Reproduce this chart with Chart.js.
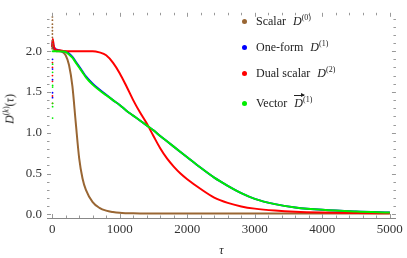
<!DOCTYPE html>
<html>
<head>
<meta charset="utf-8">
<script src="https://cdn.jsdelivr.net/npm/chart.js@4"></script>
<style>
  html, body { margin: 0; padding: 0; background: #fff; }
  #wrap { position: relative; width: 407px; height: 258px; }
  #legend { position: absolute; left: 242px; top: 12px; font-family: "Liberation Serif", "DejaVu Serif", serif; font-size: 12px; color: #222; }
  #legend .row { position: absolute; white-space: nowrap; left: 0; height: 16px; line-height: 16px; }
  #legend .dot { display: inline-block; width: 5px; height: 5px; border-radius: 50%; margin-right: 9px; vertical-align: middle; position: relative; top: -1px; }
  #legend i { font-style: italic; margin-left: 4px; }
  #legend sup { font-size: 8px; vertical-align: 5px; line-height: 0; }
  .vec { position: relative; display: inline-block; }
  .vec::before { content: ""; position: absolute; left: 0px; right: -1px; top: 0px; border-top: 1px solid #222; }
  .vec::after { content: ""; position: absolute; right: -2px; top: -2px; border-left: 4px solid #222; border-top: 2.5px solid transparent; border-bottom: 2.5px solid transparent; }
  #ytitle { position: absolute; left: 0px; top: 109px; transform: translate(-50%, -50%) rotate(-90deg); transform-origin: center; font-family: "Liberation Serif", "DejaVu Serif", serif; font-size: 12px; color: #222; white-space: nowrap; margin-left: 10px; }
  #ytitle sup { font-size: 8px; vertical-align: 5px; line-height: 0; }
</style>
</head>
<body>
<div id="wrap">
  <canvas id="c" width="407" height="258"></canvas>
  <div id="legend">
    <div class="row" style="top:1px"><span class="dot" style="background:#996633"></span>Scalar <i>D</i><sup>(0)</sup></div>
    <div class="row" style="top:27px"><span class="dot" style="background:#0000ff"></span>One-form <i>D</i><sup>(1)</sup></div>
    <div class="row" style="top:53px"><span class="dot" style="background:#ff0000"></span>Dual scalar <i>D</i><sup>(2)</sup></div>
    <div class="row" style="top:83px"><span class="dot" style="background:#00ee00"></span>Vector <i class="vec">D</i><sup>(1)</sup></div>
  </div>
  <div id="ytitle"><i>D</i><sup>(<i>k</i>)</sup>(<i>τ</i>)</div>
</div>
<script>
// ---- data ----
const seriesNames = ["Scalar D(0)", "One-form D(1)", "Dual scalar D(2)", "Vector D(1)"];
const tau = [0, 10, 20, 40, 60, 100, 150, 200, 250, 300, 350, 400, 450, 500, 600, 700, 800, 900, 1000, 1100, 1200, 1300, 1400, 1500, 1600, 1700, 1800, 1900, 2000, 2200, 2400, 2600, 2800, 3000, 3300, 3600, 4000, 4500, 5000];
const scalarD0 = [2.02, 2.06, 2.03, 2.01, 2.0, 2.0, 1.99, 1.95, 1.83, 1.57, 1.12, 0.69, 0.44, 0.30, 0.15, 0.08, 0.045, 0.028, 0.018, 0.014, 0.012, 0.011, 0.011, 0.011, 0.011, 0.011, 0.011, 0.011, 0.011, 0.011, 0.011, 0.011, 0.011, 0.011, 0.011, 0.011, 0.011, 0.011, 0.011];
const oneformD1 = [2.05, 2.13, 2.07, 2.03, 2.02, 2.01, 2.0, 1.995, 1.97, 1.93, 1.87, 1.81, 1.75, 1.69, 1.60, 1.53, 1.465, 1.40, 1.34, 1.27, 1.21, 1.15, 1.09, 1.03, 0.96, 0.895, 0.83, 0.765, 0.70, 0.57, 0.45, 0.35, 0.26, 0.19, 0.125, 0.085, 0.055, 0.035, 0.023];
const dualD2 = [2.05, 2.15, 2.08, 2.03, 2.015, 2.01, 2.005, 2.0, 2.0, 2.0, 2.0, 2.0, 2.0, 2.0, 2.0, 1.985, 1.95, 1.86, 1.73, 1.57, 1.40, 1.25, 1.115, 0.96, 0.81, 0.685, 0.585, 0.50, 0.43, 0.31, 0.205, 0.14, 0.097, 0.07, 0.046, 0.031, 0.021, 0.015, 0.012];
const vectorD1 = [1.99, 2.0, 2.0, 2.0, 2.0, 2.0, 1.995, 1.99, 1.96, 1.92, 1.86, 1.80, 1.74, 1.68, 1.59, 1.52, 1.46, 1.40, 1.34, 1.27, 1.21, 1.15, 1.09, 1.03, 0.96, 0.895, 0.83, 0.765, 0.70, 0.57, 0.45, 0.35, 0.26, 0.19, 0.125, 0.085, 0.055, 0.035, 0.023];
// scattered early-time samples near tau = 0
const scalarEarlyTau = [4, 4, 4, 4, 4, 4, 4, 4, 4, 4];
const scalarEarlyVal = [2.42, 2.38, 2.33, 2.29, 2.25, 2.21, 2.17, 2.13, 2.09, 2.06];
const oneformEarlyTau = [6, 6, 6, 6, 6];
const oneformEarlyVal = [1.78, 1.65, 1.49, 1.43, 1.90];
const dualEarlyTau = [5, 5, 5, 5, 5, 5];
const dualEarlyVal = [1.86, 1.80, 1.70, 1.63, 1.45, 1.36];
const vectorEarlyTau = [7, 7, 7, 7, 7, 7, 7];
const vectorEarlyVal = [1.84, 1.74, 1.58, 1.56, 1.36, 1.32, 1.18];
const xTicks = [0, 1000, 2000, 3000, 4000, 5000];
const yTicks = [0.0, 0.5, 1.0, 1.5, 2.0];

const colors = ["#996633", "#0000ff", "#ff0000", "#00ee00"];
const pts = (xs, ys) => xs.map((x, i) => ({ x: x, y: ys[i] }));

const serif = "'Liberation Serif', 'DejaVu Serif', serif";

const frameTicks = {
  id: 'frameTicks',
  afterDatasetsDraw(chart) {
    const { ctx, chartArea: a, scales: { x, y } } = chart;
    ctx.save();
    ctx.strokeStyle = '#999';
    ctx.lineWidth = 1;
    ctx.beginPath();
    for (let v = 0; v <= 24; v++) {
      const val = v / 10;
      const py = Math.round(y.getPixelForValue(val)) + 0.5;
      const len = (v % 5 === 0) ? 4 : 2.5;
      ctx.moveTo(a.left, py); ctx.lineTo(a.left + len, py);
      ctx.moveTo(a.right, py); ctx.lineTo(a.right - len, py);
    }
    for (let t = 0; t <= 5000; t += 200) {
      const px = Math.round(x.getPixelForValue(t)) + 0.5;
      const len = (t % 1000 === 0) ? 4 : 2.5;
      ctx.moveTo(px, a.bottom); ctx.lineTo(px, a.bottom - len);
      ctx.moveTo(px, a.top); ctx.lineTo(px, a.top + len);
    }
    ctx.stroke();
    ctx.restore();
  }
};

const lineDs = (label, data, color, order) => ({
  label, data: pts(tau, data), borderColor: color, backgroundColor: color,
  showLine: true, pointRadius: 0, borderWidth: 2, cubicInterpolationMode: 'monotone', order
});
const dotDs = (label, xs, ys, color, order) => ({
  label, data: pts(xs, ys), borderColor: color, backgroundColor: color,
  showLine: false, pointRadius: 0.9, borderWidth: 0, order
});

new Chart(document.getElementById('c'), {
  type: 'scatter',
  data: {
    datasets: [
      lineDs(seriesNames[0], scalarD0, colors[0], 6),
      lineDs(seriesNames[1], oneformD1, colors[1], 5),
      lineDs(seriesNames[2], dualD2, colors[2], 4),
      lineDs(seriesNames[3], vectorD1, colors[3], 3),
      dotDs(seriesNames[0] + ' early', scalarEarlyTau, scalarEarlyVal, colors[0], 2),
      dotDs(seriesNames[1] + ' early', oneformEarlyTau, oneformEarlyVal, colors[1], 1),
      dotDs(seriesNames[2] + ' early', dualEarlyTau, dualEarlyVal, colors[2], 1),
      dotDs(seriesNames[3] + ' early', vectorEarlyTau, vectorEarlyVal, colors[3], 0)
    ]
  },
  options: {
    responsive: false,
    animation: false,
    events: [],
    layout: { padding: { top: 0, right: 8, left: 0, bottom: 0 } },
    plugins: { legend: { display: false }, tooltip: { enabled: false } },
    scales: {
      x: {
        type: 'linear', min: -76, max: 5090,
        afterBuildTicks: s => { s.ticks = xTicks.map(v => ({ value: v })); },
        afterFit: s => { s.height = 40; },
        grid: { display: false, drawTicks: false },
        border: { display: true, color: '#888', width: 1 },
        ticks: { padding: 4, color: '#333', font: { family: serif, size: 13 }, callback: v => String(v) },
        title: { display: true, text: 'τ', color: '#222', padding: { top: 2, bottom: 0 }, font: { family: serif, size: 12, style: 'italic' } }
      },
      y: {
        type: 'linear', min: -0.045, max: 2.47,
        afterBuildTicks: s => { s.ticks = yTicks.map(v => ({ value: v })); },
        afterFit: s => { s.width = 47; },
        grid: { display: false, drawTicks: false },
        border: { display: false },
        ticks: { padding: 5, color: '#333', font: { family: serif, size: 13 }, callback: v => v.toFixed(1) }
      }
    }
  },
  plugins: [frameTicks]
});
</script>
</body>
</html>
